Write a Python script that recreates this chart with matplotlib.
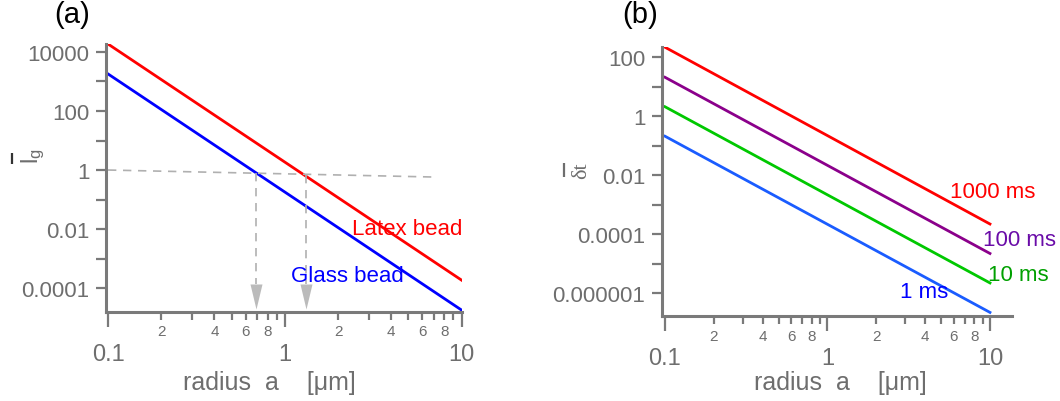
import numpy as np
import matplotlib
matplotlib.use('Agg')
import matplotlib.pyplot as plt
from matplotlib.ticker import FixedLocator, FixedFormatter, LogLocator, FuncFormatter

# Data (values at radius 0.1 and 10 um, power laws)
radius = [0.1, 10.0]

# (a) l_g ~ a^-4
latex_bead = [1.86e4, 1.86e-4]
glass_bead = [1.8e3, 1.8e-5]
ref_line_x = [0.1, 6.9]
ref_line_y = [1.0, 0.58]
arrow_x = [0.69, 1.31]
arrow_top = [0.79, 0.70]
arrow_head_top = 1.4e-4
arrow_tip = 2.0e-5

# (b) delta t ~ a^-3
dt_1000 = [2.2e2, 2.2e-4]
dt_100 = [2.1e1, 2.2e-5]
dt_10 = [2.1, 2.2e-6]
dt_1 = [0.21, 2.2e-7]

ticks_a = [1e-4, 1e-2, 1, 1e2, 1e4]
ticklabels_a = ['0.0001', '0.01', '1', '100', '10000']
minor_a = [1e-3, 1e-1, 10, 1e3]
ticks_b = [1e-6, 1e-4, 1e-2, 1, 1e2]
ticklabels_b = ['0.000001', '0.0001', '0.01', '1', '100']
minor_b = [1e-5, 1e-3, 1e-1, 10]
xticks = [0.1, 1, 10]
xticklabels = ['0.1', '1', '10']

GRAY = '#7a7a7a'
TEXT_GRAY = '#6e6e6e'

plt.rcParams['font.family'] = ['Liberation Sans', 'DejaVu Sans']
plt.rcParams['mathtext.fontset'] = 'custom'
plt.rcParams['mathtext.rm'] = 'Liberation Sans'
plt.rcParams['mathtext.it'] = 'Liberation Sans:italic'

fig = plt.figure(figsize=(10.6, 4.02), dpi=100)
ax1 = fig.add_axes([0.1, 0.2214, 0.3358, 0.6674])
ax2 = fig.add_axes([0.6245, 0.2114, 0.3302, 0.6692])


def minor_fmt(v, pos):
    m = v / 10 ** np.floor(np.log10(v) + 1e-9)
    m = int(round(m))
    return str(m) if m in (2, 4, 6, 8) else ''


def style(ax, yt, ytl, ymin):
    ax.set_xscale('log')
    ax.set_yscale('log')
    for s in ['top', 'right']:
        ax.spines[s].set_visible(False)
    for s in ['left', 'bottom']:
        ax.spines[s].set_color(GRAY)
        ax.spines[s].set_linewidth(2.2)
    ax.yaxis.set_major_locator(FixedLocator(yt))
    ax.yaxis.set_major_formatter(FixedFormatter(ytl))
    ax.yaxis.set_minor_locator(FixedLocator(ymin))
    ax.yaxis.set_minor_formatter(FuncFormatter(lambda v, p: ''))
    ax.xaxis.set_major_locator(FixedLocator(xticks))
    ax.xaxis.set_major_formatter(FixedFormatter(xticklabels))
    ax.xaxis.set_minor_locator(LogLocator(base=10, subs=np.arange(2, 10)))
    ax.xaxis.set_minor_formatter(FuncFormatter(minor_fmt))
    ax.tick_params(axis='y', which='both', length=7, width=1.6, color=GRAY,
                   labelcolor=TEXT_GRAY, labelsize=16, pad=5)
    ax.tick_params(axis='x', which='major', length=11, width=1.6, color=GRAY,
                   labelcolor=TEXT_GRAY, labelsize=17, pad=11)
    ax.tick_params(axis='x', which='minor', length=6, width=1.6, color=GRAY,
                   labelcolor=TEXT_GRAY, labelsize=11, pad=3)


# panel (a)
ax1.plot(radius, latex_bead, color='#ff0000', lw=2)
ax1.plot(radius, glass_bead, color='#0000ff', lw=2)
ax1.plot(ref_line_x, ref_line_y, color='#b0b0b0', lw=1.2, dashes=(5, 4))
for x, top in zip(arrow_x, arrow_top):
    ax1.plot([x, x], [top, arrow_head_top], color='#b0b0b0', lw=1.2, dashes=(5, 4))
    ax1.plot([x], [arrow_tip], marker=[(-0.24, 1), (0.24, 1), (0, 0), (-0.24, 1)],
             markersize=36, color='#bbbbbb', markeredgewidth=0, clip_on=False)
style(ax1, ticks_a, ticklabels_a, minor_a)
ax1.set_xlim(0.0974, 10.05)
ax1.set_ylim(10 ** -4.81, 10 ** 4.28)
ax1.text(2.39, 0.0105, 'Latex bead', color='#ff0000', fontsize=16, ha='left', va='center')
ax1.text(1.08, 2.7e-4, 'Glass bead', color='#0000ff', fontsize=16, ha='left', va='center')
# y label: overbar drawn as a short line, set apart like in the original
ax1.plot([-0.264, -0.264], [0.552, 0.592], transform=ax1.transAxes, clip_on=False,
         color='#333333', lw=1.6, solid_capstyle='butt')
ax1.text(-0.205, 0.584, r'$\mathrm{l}_{\mathrm{g}}$', transform=ax1.transAxes,
         rotation=90, ha='center', va='center', fontsize=17, color=TEXT_GRAY)
ax1.text(0.46, -0.262, 'radius  a    [μm]', transform=ax1.transAxes,
         ha='center', va='center', fontsize=18, color=TEXT_GRAY)
fig.text(72 / 1060, 1 - 15 / 402, '(a)', fontsize=21, ha='center', va='center')

# panel (b)
ax2.plot(radius, dt_1000, color='#ff0000', lw=2)
ax2.plot(radius, dt_100, color='#8b008b', lw=2)
ax2.plot(radius, dt_10, color='#00c800', lw=2)
ax2.plot(radius, dt_1, color='#1a5cff', lw=2)
style(ax2, ticks_b, ticklabels_b, minor_b)
ax2.set_xlim(0.0958, 13.66)
ax2.set_ylim(10 ** -6.78, 10 ** 2.35)
ax2.text(5.67, 2.9e-3, '1000 ms', color='#ff0000', fontsize=16, ha='left', va='center')
ax2.text(9.06, 6.8e-5, '100 ms', color='#6a0ca8', fontsize=16, ha='left', va='center')
ax2.text(9.7, 4.1e-6, '10 ms', color='#00a000', fontsize=16, ha='left', va='center')
ax2.text(2.79, 1.17e-6, '1 ms', color='#0000ff', fontsize=16, ha='left', va='center')
ax2.plot([-0.28, -0.28], [0.518, 0.57], transform=ax2.transAxes, clip_on=False,
         color=TEXT_GRAY, lw=1.6, solid_capstyle='butt')
ax2.text(-0.229, 0.543, 'δt', transform=ax2.transAxes, rotation=90,
         ha='center', va='center', fontsize=16, color=TEXT_GRAY,
         family=['Liberation Serif', 'DejaVu Serif'])
ax2.text(0.509, -0.245, 'radius  a    [μm]', transform=ax2.transAxes,
         ha='center', va='center', fontsize=18, color=TEXT_GRAY)
fig.text(640 / 1060, 1 - 15 / 402, '(b)', fontsize=21, ha='center', va='center')

fig.savefig('out.png', dpi=100)
